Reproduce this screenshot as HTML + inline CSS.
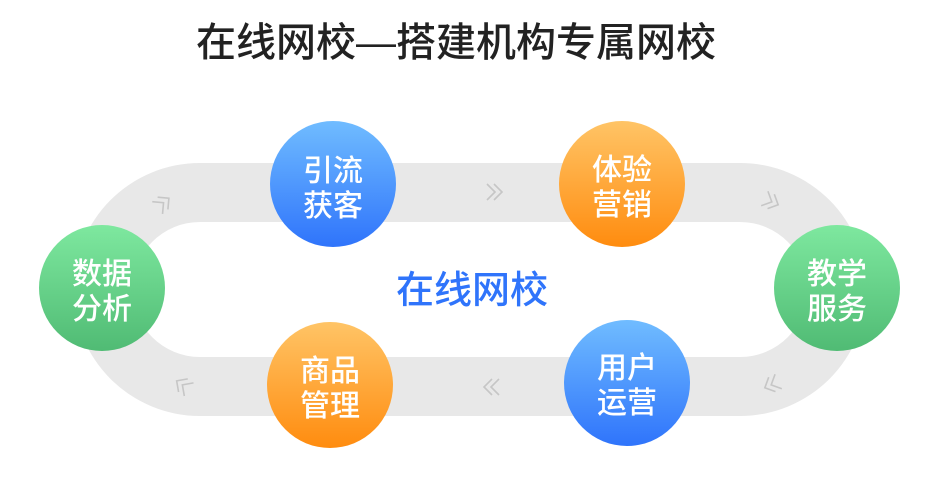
<!DOCTYPE html>
<html><head><meta charset="utf-8"><style>
html,body{margin:0;padding:0;background:#fff;width:943px;height:477px;overflow:hidden}
svg text{font-family:"Liberation Sans","Noto Sans CJK SC",sans-serif}
</style></head><body>
<svg width="943" height="477" viewBox="0 0 943 477" xmlns="http://www.w3.org/2000/svg">
<defs>
<linearGradient id="b" x1="0" y1="0" x2="0" y2="1"><stop offset="0" stop-color="#70bcff"/><stop offset="1" stop-color="#2f74fb"/></linearGradient>
<linearGradient id="o" x1="0" y1="0" x2="0" y2="1"><stop offset="0" stop-color="#ffc466"/><stop offset="1" stop-color="#ff8c0f"/></linearGradient>
<linearGradient id="g" x1="0" y1="0" x2="0" y2="1"><stop offset="0" stop-color="#7ee89f"/><stop offset="1" stop-color="#50bb74"/></linearGradient>
<path id="ch" d="M-6,-8 L2,0 L-6,8 M1,-8 L9,0 L1,8" fill="none" stroke="#c6c6c6" stroke-width="1.6"/>
</defs>
<text x="456" y="56" text-anchor="middle" font-size="40" font-weight="500" fill="#222">在线网校—搭建机构专属网校</text>
<path d="M200,163 H740 A126.5,126.5 0 0 1 740,416 H200 A126.5,126.5 0 0 1 200,163 Z M200,222 A67.5,67.5 0 0 0 200,357 H740 A67.5,67.5 0 0 0 740,222 Z" fill="#e8e8e8" fill-rule="evenodd"/>
<use href="#ch" transform="translate(162,204) rotate(-40)"/>
<use href="#ch" transform="translate(493,192)"/>
<use href="#ch" transform="translate(770,201) rotate(25)"/>
<use href="#ch" transform="translate(773,384) rotate(155)"/>
<use href="#ch" transform="translate(493,387) rotate(180)"/>
<use href="#ch" transform="translate(184,386) rotate(215)"/>
<circle cx="333" cy="184" r="63" fill="url(#b)"/>
<circle cx="622" cy="184" r="63" fill="url(#o)"/>
<circle cx="837" cy="288" r="63" fill="url(#g)"/>
<circle cx="627" cy="383" r="63" fill="url(#b)"/>
<circle cx="330" cy="385" r="63" fill="url(#o)"/>
<circle cx="102" cy="288" r="63" fill="url(#g)"/>
<g fill="#fff" font-size="30" font-weight="500" text-anchor="middle">
<text x="333" y="181">引流</text><text x="333" y="216">获客</text>
<text x="622" y="180">体验</text><text x="622" y="215">营销</text>
<text x="837" y="284">教学</text><text x="837" y="319">服务</text>
<text x="627" y="378">用户</text><text x="627" y="413">运营</text>
<text x="330" y="381">商品</text><text x="330" y="416">管理</text>
<text x="102" y="284">数据</text><text x="102" y="319">分析</text>
</g>
<text x="472" y="303" text-anchor="middle" font-size="38" font-weight="500" fill="#2f74fb">在线网校</text>
</svg>
</body></html>
